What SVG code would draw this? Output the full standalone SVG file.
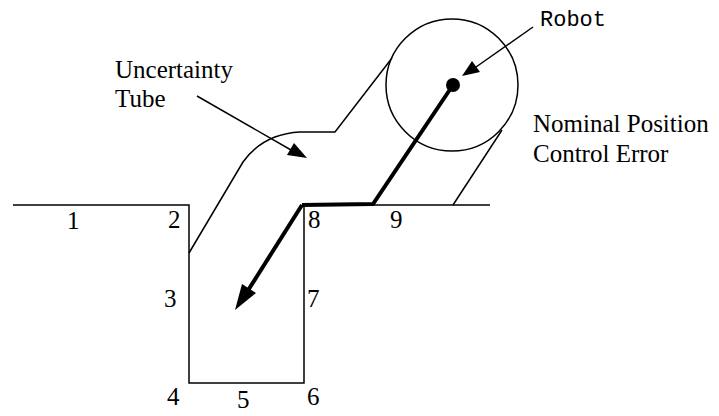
<svg xmlns="http://www.w3.org/2000/svg" width="719" height="416" viewBox="0 0 719 416">
<style>
.thin{fill:none;stroke:#000;stroke-width:1.5;stroke-linejoin:miter}
.thick{fill:none;stroke:#000;stroke-width:4;stroke-linejoin:miter}
.t{font-family:"Liberation Serif","Times New Roman",serif;font-size:25px;fill:#000}
.m{font-family:"Liberation Mono","Courier New",monospace;font-size:22px;fill:#000}
</style>
<defs>
<marker id="ah" viewBox="0 0 10 10" refX="10" refY="5" markerWidth="10" markerHeight="7" markerUnits="userSpaceOnUse" orient="auto">
<path d="M0,0 L10,5 L0,10 z" fill="#000"/>
</marker>
</defs>
<rect width="719" height="416" fill="#fff"/>
<g id="terrain">
<path class="thin" d="M13,205 H189 V383 H304 V205 H490"/>
</g>
<g id="tube">
<circle class="thin" cx="452" cy="85" r="66"/>
<path class="thin" d="M189,253 L243,162 Q263,134 300,132 H335 L392,58"/>
<path class="thin" d="M502,130 L453,205"/>
</g>
<g id="robot">
<circle cx="453" cy="85" r="7" fill="#000"/>
</g>
<g id="connectors">
<path class="thick" d="M302,205 L373,204 L453,85"/>
<path d="M302,205 L247,292" class="thick"/>
<path d="M235,310 L242,284 L256,293 z" fill="#000"/>
<line x1="197" y1="96" x2="291" y2="150" stroke="#000" stroke-width="1.5"/>
<path d="M307,158 L287,155 L294,143 z" fill="#000"/>
<line x1="533" y1="27" x2="476" y2="67" stroke="#000" stroke-width="1.5"/>
<path d="M462,76 L472,61 L480,72 z" fill="#000"/>
</g>
<g id="labels">
<text class="m" x="540" y="26">Robot</text>
<text class="t" x="115" y="78">Uncertainty</text>
<text class="t" x="115" y="107">Tube</text>
<text class="t" x="533" y="132">Nominal Position</text>
<text class="t" x="533" y="162">Control Error</text>
<text class="t" x="67" y="229">1</text>
<text class="t" x="168" y="228">2</text>
<text class="t" x="164" y="307">3</text>
<text class="t" x="167" y="405">4</text>
<text class="t" x="237" y="408">5</text>
<text class="t" x="307" y="405">6</text>
<text class="t" x="307" y="307">7</text>
<text class="t" x="308" y="228">8</text>
<text class="t" x="390" y="228">9</text>
</g>
</svg>
